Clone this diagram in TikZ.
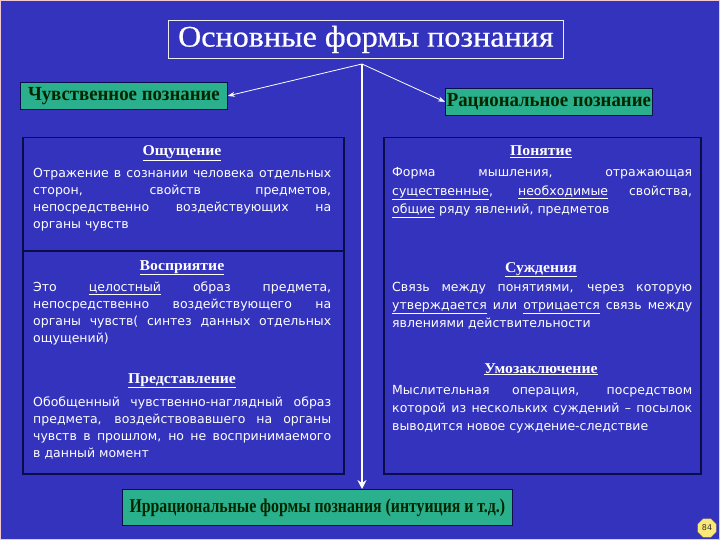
\documentclass[tikz,border=0pt]{standalone}
\usepackage{fontspec}
\setmainfont{Liberation Serif}
\newfontfamily\bodyf{DejaVu Sans}
\newfontfamily\headf[FakeStretch=1.05]{Liberation Serif}
\newfontfamily\titlef[FakeStretch=1.07,FakeBold=0.6]{Liberation Serif}
\newfontfamily\boxf[FakeStretch=0.94]{Liberation Serif}
\newfontfamily\boxg[FakeStretch=0.81]{Liberation Serif}
\usetikzlibrary{shapes.geometric,arrows.meta}
\definecolor{bg}{RGB}{51,51,190}
\definecolor{tealc}{RGB}{42,176,140}
\definecolor{navy}{RGB}{12,12,72}
\definecolor{badgec}{RGB}{250,232,120}
\definecolor{edgec}{RGB}{240,200,210}
\begin{document}
\begin{tikzpicture}[x=1pt,y=-1pt,
  panel/.style={draw=navy,line width=1.5pt,fill=bg,inner sep=0,anchor=north west},
  tealbox/.style={draw=navy,fill=tealc,line width=0.8pt,inner sep=0,anchor=north west,text=black!85!green,font=\boxf\bfseries\fontsize{20}{20}\selectfont},
  bodyl/.style={text=white,align=justify,text width=298,font=\bodyf\fontsize{12.5}{17}\selectfont,inner sep=0,anchor=base west},
  bodyr/.style={bodyl,text width=300,font=\bodyf\fontsize{12.5}{18.3}\selectfont},
  head/.style={text=white,font=\headf\bfseries\fontsize{15}{16}\selectfont,inner sep=0,anchor=base},
  conn/.style={white,line width=0.8pt,-{Stealth[length=7pt,width=5pt]}},
]
\useasboundingbox (0,0) rectangle (720,540);
\fill[bg] (0,0) rectangle (720,540);
\draw[edgec,line width=2pt] (0,0) rectangle (720,540);

\node[draw=white!85!gray,line width=0.8pt,fill=bg,minimum width=395,minimum height=38,inner sep=0,anchor=north west,text=white,font=\titlef\fontsize{30}{30}\selectfont] (title) at (168,20) {Основные формы познания};
\coordinate (hub) at (362,64);

\node[tealbox,minimum width=207,minimum height=27] (sens) at (20,82) {Чувственное познание};
\node[tealbox,minimum width=207,minimum height=27] (rat) at (445,88) {Рациональное познание};
\node[tealbox,minimum width=390,minimum height=36,font=\boxg\bfseries\fontsize{19.5}{20}\selectfont] (irr) at (122,489) {Иррациональные формы познания (интуиция и т.д.)};

\node[panel,minimum width=321,minimum height=113] (p1) at (22,137) {};
\node[panel,minimum width=321,minimum height=223] (p2) at (22,250) {};
\node[panel,minimum width=317,minimum height=336] (p3) at (383,137) {};

\draw[conn] (hub) -- (sens.east);
\draw[conn] (hub) -- (rat.west);
\draw[white,line width=2.5pt,-{Stealth[length=9pt,width=9pt]}] (hub) -- (hub |- irr.north);

% left panel
\node[head] (h1) at (182,156) {\underline{Ощущение}};
\node[bodyl] (t1) at (33,178) {Отражение в сознании человека отдельных\linebreak сторон, свойств предметов,\linebreak непосредственно воздействующих на\linebreak органы чувств};
\node[head] (h2) at (182,270) {\underline{Восприятие}};
\node[bodyl] (t2) at (33,291) {Это \underline{целостный} образ предмета,\linebreak непосредственно воздействующего на\linebreak органы чувств( синтез данных отдельных\linebreak ощущений)};
\node[head] (h3) at (182,383) {\underline{Представление}};
\node[bodyl] (t3) at (33,406) {Обобщенный чувственно-наглядный образ\linebreak предмета, воздействовавшего на органы\linebreak чувств в прошлом, но не воспринимаемого\linebreak в данный момент};

% right panel
\node[head] (h4) at (541,156) {\underline{Понятие}};
\node[bodyr] (t4) at (392,177) {Форма мышления, отражающая\linebreak \underline{существенные}, \underline{необходимые} свойства,\linebreak \underline{общие} ряду явлений, предметов};
\node[head] (h5) at (541,272) {\underline{Суждения}};
\node[bodyr] (t5) at (392,291) {Связь между понятиями, через которую\linebreak \underline{утверждается} или \underline{отрицается} связь между\linebreak явлениями действительности};
\node[head] (h6) at (541,373) {\underline{Умозаключение}};
\node[bodyr] (t6) at (392,394) {Мыслительная операция, посредством\linebreak которой из нескольких суждений – посылок\linebreak выводится новое суждение-следствие};

\node[regular polygon,regular polygon sides=8,fill=badgec,draw=badgec!70!black,line width=0.4pt,minimum size=20,inner sep=0,font=\bodyf\fontsize{8}{8}\selectfont,text=black!80] (badge) at (707,528) {84};
\end{tikzpicture}
\end{document}
